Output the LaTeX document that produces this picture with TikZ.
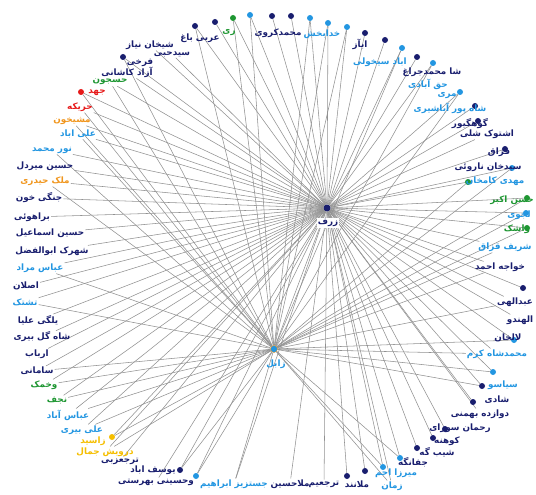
\documentclass[tikz,border=0pt]{standalone}
\usepackage{fontspec}
\usetikzlibrary{backgrounds}
\newfontfamily\arabicfont[Script=Arabic]{DejaVu Sans}
\TeXXeTstate=1
\newcommand{\fa}[1]{\arabicfont\bfseries\beginR #1\endR}
\definecolor{navyc}{RGB}{25,30,110}
\definecolor{bluec}{RGB}{35,150,225}
\definecolor{greenc}{RGB}{30,150,50}
\definecolor{redc}{RGB}{230,25,25}
\definecolor{orangec}{RGB}{240,150,30}
\definecolor{yellowc}{RGB}{245,190,0}
\definecolor{edgec}{RGB}{145,145,145}
\tikzset{
  every node/.style={font=\fontsize{8.8}{9}\selectfont},
  dot/.style={circle, inner sep=0pt, minimum size=6pt},
  hub/.style={circle, inner sep=0pt, minimum size=7pt},
  txt/.style={inner sep=1pt},
  link/.style={draw=edgec, line width=0.55pt}
}
\begin{document}
\begin{tikzpicture}[x=1pt,y=-1pt]
\useasboundingbox (0,0) rectangle (536,495);

% the two hubs
\node [hub, fill=navyc] (zarf) at (327,208) {};
\node [txt, text=navyc, fill=white] (l-zarf) at (328,223) {\fa{زرف}};
\node [hub, fill=bluec, draw=orangec, line width=0.4pt] (zabol) at (274,349) {};
\node [txt, text=bluec] (l-zabol) at (276,364) {\fa{زابل}};

% top arc
\node [dot, fill=greenc] (ri) at (233,18) {};
\node [txt, text=greenc] (l-ri) at (229,33) {\fa{ری}};
\node [dot, fill=bluec] (ta) at (250,15) {};
\node [dot, fill=navyc] (kv) at (272,16) {};
\node [txt, text=navyc] (l-kv) at (278,33) {\fa{محمدکروی}};
\node [dot, fill=navyc] (tb) at (291,16) {};
\node [dot, fill=bluec] (tc) at (310,18) {};
\node [dot, fill=bluec] (kh) at (328,23) {};
\node [txt, text=bluec] (l-kh) at (322,34) {\fa{خدابخش}};
\node [dot, fill=bluec] (td) at (347,27) {};
\node [dot, fill=navyc] (ab) at (365,33) {};
\node [txt, text=navyc] (l-ab) at (360,44) {\fa{ابآز}};
\node [dot, fill=navyc] (te) at (385,40) {};
\node [dot, fill=bluec] (sk) at (402,48) {};
\node [txt, text=bluec] (l-sk) at (380,62) {\fa{اباد سیخولی}};
\node [dot, fill=navyc] (mj) at (417,57) {};
\node [txt, text=navyc] (l-mj) at (432,72) {\fa{شا محمدجراغ}};
\node [dot, fill=bluec] (hq) at (433,63) {};
\node [txt, text=bluec] (l-hq) at (428,84) {\fa{حق آبادی}};
\node [dot, fill=bluec] (mr) at (460,92) {};
\node [txt, text=bluec] (l-mr) at (447,96) {\fa{مری}};
\node [dot, fill=navyc] (sh) at (475,106) {};
\node [txt, text=bluec] (l-sh) at (450,108) {\fa{شاه پور آباشیری}};
\node [dot, fill=navyc] (gg) at (478,121) {};
\node [txt, text=navyc] (l-gg) at (470,124) {\fa{گوهگیور}};

% right side
\node [txt, text=navyc] (as) at (487,134) {\fa{اشتوک شلی}};
\node [dot, fill=navyc] (qz) at (505,149) {};
\node [txt, text=navyc] (l-qz) at (499,152) {\fa{قزاق}};
\node [dot, fill=bluec] (sn) at (512,168) {};
\node [txt, text=navyc] (l-sn) at (488,167) {\fa{سیدخان ناروئی}};
\node [dot, fill=greenc] (mk) at (468,182) {};
\node [txt, text=bluec] (l-mk) at (495,181) {\fa{مهدی کامخان}};
\node [dot, fill=greenc] (ha) at (527,198) {};
\node [txt, text=greenc] (l-ha) at (512,200) {\fa{حسن اکبر}};
\node [dot, fill=bluec] (lj) at (526,213) {};
\node [txt, text=bluec] (l-lj) at (519,215) {\fa{لجوی}};
\node [dot, fill=greenc] (wa) at (527,228) {};
\node [txt, text=greenc] (l-wa) at (517,229) {\fa{واشک}};
\node [txt, text=bluec] (sq) at (505,247) {\fa{شریف قزاق}};
\node [txt, text=navyc] (kw) at (500,267) {\fa{خواجه احمد}};
\node [dot, fill=navyc] (rx) at (523,288) {};
\node [txt, text=navyc] (ah) at (515,302) {\fa{عبدالهی}};
\node [txt, text=navyc] (hd) at (520,320) {\fa{الهندو}};
\node [dot, fill=bluec] (lk) at (514,340) {};
\node [txt, text=navyc] (l-lk) at (508,338) {\fa{لالخان}};
\node [txt, text=bluec] (ms) at (497,354) {\fa{محمدشاه کرم}};
\node [dot, fill=bluec] (ry) at (493,372) {};
\node [dot, fill=navyc] (sy) at (482,386) {};
\node [txt, text=bluec] (l-sy) at (503,385) {\fa{سیاسو}};
\node [dot, fill=navyc] (sd) at (473,402) {};
\node [txt, text=navyc] (l-sd) at (497,400) {\fa{شادی}};
\node [txt, text=navyc] (db) at (480,414) {\fa{دوازده بهمنی}};

% bottom arc
\node [dot, fill=navyc] (rs) at (445,429) {};
\node [txt, text=navyc] (l-rs) at (460,428) {\fa{رحمان سوزای}};
\node [dot, fill=navyc] (kn) at (433,438) {};
\node [txt, text=navyc] (l-kn) at (447,441) {\fa{کوهنه}};
\node [dot, fill=navyc] (sg) at (417,448) {};
\node [txt, text=navyc] (l-sg) at (437,452) {\fa{شیب گه}};
\node [dot, fill=bluec] (jf) at (400,458) {};
\node [txt, text=navyc] (l-jf) at (413,462) {\fa{جفانگه}};
\node [dot, fill=bluec] (mz) at (383,467) {};
\node [txt, text=bluec] (l-mz) at (396,473) {\fa{میرزا احم}};
\node [txt, text=bluec] (zm) at (392,486) {\fa{زمان}};
\node [dot, fill=navyc] (ml) at (365,471) {};
\node [dot, fill=navyc] (mn) at (347,476) {};
\node [txt, text=navyc] (l-mn) at (357,484) {\fa{ملانند}};
\node [txt, text=navyc] (tj) at (324,484) {\fa{ترجعیم}};
\node [txt, text=navyc] (mh) at (290,484) {\fa{ملاحسین}};
\node [txt, text=bluec] (jz) at (234,484) {\fa{جستزیز ابراهیم}};
\node [dot, fill=bluec] (zl) at (196,476) {};
\node [txt, text=navyc] (hb) at (156,482) {\fa{وحسینی بهرستی}};
\node [dot, fill=navyc] (yo) at (180,470) {};
\node [txt, text=navyc] (l-yo) at (153,470) {\fa{یوسف اباد}};
\node [txt, text=navyc] (tz) at (120,461) {\fa{ترجعزبی}};
\node [txt, text=yellowc] (dj) at (105,452) {\fa{درویش جمال}};
\node [dot, fill=yellowc] (zs) at (112,437) {};
\node [txt, text=yellowc] (l-zs) at (93,441) {\fa{زاسید}};

% left side
\node [txt, text=bluec] (ay) at (82,430) {\fa{علی بیری}};
\node [txt, text=bluec] (aa) at (68,415) {\fa{عباس آباد}};
\node [txt, text=greenc] (nj) at (57,400) {\fa{نجف}};
\node [txt, text=greenc] (wk) at (44,385) {\fa{وخمک}};
\node [txt, text=navyc] (sm) at (37,371) {\fa{سامانی}};
\node [txt, text=navyc] (ar) at (37,354) {\fa{ارباب}};
\node [txt, text=navyc] (sb) at (42,337) {\fa{شاه گل بیری}};
\node [txt, text=navyc] (ya) at (38,320) {\fa{یلگی علیا}};
\node [txt, text=bluec] (tt) at (25,302) {\fa{تشتک}};
\node [txt, text=navyc] (al) at (26,286) {\fa{اصلان}};
\node [txt, text=bluec] (am) at (40,268) {\fa{عباس مراد}};
\node [txt, text=navyc] (sf) at (52,251) {\fa{شهرک ابوالفضل}};
\node [txt, text=navyc] (hs) at (50,233) {\fa{حسین اسماعیل}};
\node [txt, text=navyc] (br) at (32,217) {\fa{براهوئی}};
\node [txt, text=navyc] (jk) at (39,198) {\fa{جنگی خون}};
\node [txt, text=orangec] (mhd) at (45,181) {\fa{ملک حیدری}};
\node [txt, text=navyc] (hm) at (45,166) {\fa{حسین میردل}};
\node [txt, text=bluec] (nm) at (52,150) {\fa{نور محمد}};
\node [txt, text=bluec] (ala) at (78,134) {\fa{علی اباد}};
\node [txt, text=orangec] (msh) at (72,121) {\fa{مشیخون}};
\node [txt, text=redc] (hr) at (80,107) {\fa{حریکه}};
\node [dot, fill=redc] (jh) at (81,92) {};
\node [txt, text=redc] (l-jh) at (97,93) {\fa{جهد}};
\node [txt, text=greenc] (hj) at (110,82) {\fa{حسجون}};
\node [txt, text=navyc] (ak) at (127,72) {\fa{آزاد کاشانی}};
\node [dot, fill=navyc] (fr) at (123,57) {};
\node [txt, text=navyc] (l-fr) at (140,63) {\fa{فرخی}};
\node [txt, text=navyc] (shn) at (150,45) {\fa{شیخان نیاز}};
\node [txt, text=navyc] (shb) at (172,54) {\fa{سیدحبی}};
\node [dot, fill=navyc] (ag) at (195,26) {};
\node [txt, text=navyc] (l-ag) at (200,38) {\fa{عربی باغ}};
\node [dot, fill=navyc] (tf) at (215,22) {};

% links, behind everything
\begin{scope}[on background layer]
\draw [link] (zarf) -- (zabol);
% every village to zarf
\draw [link] (zarf) edge (ri) edge (ta) edge (kv) edge (tb) edge (tc) edge (kh)
  edge (td) edge (ab) edge (te) edge (sk) edge (mj) edge (hq) edge (mr) edge (sh)
  edge (gg) edge (as) edge (qz) edge (sn) edge (mk) edge (ha) edge (lj) edge (wa)
  edge (sq) edge (kw) edge (rx) edge (ah) edge (hd) edge (lk) edge (ms) edge (ry)
  edge (sy) edge (sd) edge (db) edge (rs) edge (kn) edge (sg) edge (jf) edge (mz)
  edge (zm) edge (ml) edge (mn) edge (tj) edge (mh) edge (jz) edge (zl) edge (hb)
  edge (yo) edge (tz) edge (dj) edge (zs) edge (ay) edge (aa) edge (nj) edge (wk)
  edge (sm) edge (ar) edge (sb) edge (ya) edge (tt) edge (al) edge (am) edge (sf)
  edge (hs) edge (br) edge (jk) edge (mhd) edge (hm) edge (nm) edge (ala) edge (msh)
  edge (hr) edge (jh) edge (hj) edge (ak) edge (fr) edge (shn) edge (shb) edge (ag)
  edge (tf);
% villages also tied to zabol
\draw [link] (zabol) edge (ri) edge (ta) edge (tc) edge (kh) edge (td) edge (sk)
  edge (hq) edge (mr) edge (sn) edge (mk) edge (ha) edge (lj) edge (wa) edge (sq)
  edge (kw) edge (ah) edge (lk) edge (ms) edge (ry) edge (sy) edge (mz) edge (jf)
  edge (zm) edge (jz) edge (zl) edge (dj) edge (zs) edge (ay) edge (aa) edge (nj)
  edge (wk) edge (sm) edge (tt) edge (am) edge (mhd) edge (nm) edge (ala) edge (msh)
  edge (hr) edge (jh) edge (hj) edge (fr) edge (ag) edge (yo);
\end{scope}
\end{tikzpicture}
\end{document}
